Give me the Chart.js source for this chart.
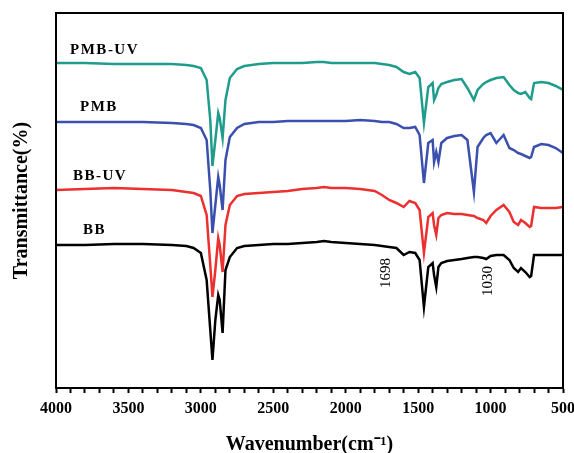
<!DOCTYPE html>
<html>
<head>
<meta charset="utf-8">
<title>FTIR spectra</title>
<script src="https://cdn.jsdelivr.net/npm/chart.js"></script>
<style>
  body { margin: 0; background: #fff; }
  #wrap { width: 574px; height: 453px; }
</style>
</head>
<body>
<div id="wrap">
  <canvas id="myChart" width="574" height="453"></canvas>
</div>

<script>
  // wavenumber grid (cm-1)
  const wavenumbers = [4000, 3800, 3600, 3400, 3200, 3100, 3050, 3000, 2960, 2935,
    2920, 2900, 2880, 2870, 2850, 2830, 2800, 2750, 2700, 2600,
    2500, 2400, 2300, 2200, 2150, 2100, 2000, 1900, 1800, 1750,
    1700, 1650, 1600, 1560, 1520, 1490, 1460, 1430, 1400, 1390,
    1375, 1360, 1340, 1300, 1250, 1200, 1160, 1115, 1090, 1050,
    1030, 1000, 960, 910, 870, 840, 810, 790, 760, 730,
    720, 700, 650, 600, 550, 500];

  // transmittance, arbitrary offset units (curves are stacked)
  const pmbUV = [325, 325, 324, 324, 324, 323, 322, 320, 308, 268,
    222, 248, 275, 270, 250, 288, 310, 319, 322, 324,
    325, 325, 325, 326, 326, 325, 325, 325, 325, 324,
    323, 321, 316, 314, 316, 310, 265, 301, 305, 288,
    293, 300, 304, 306, 308, 309, 300, 288, 298, 304,
    306, 308, 310, 311, 303, 298, 295, 294, 296, 290,
    289, 305, 306, 305, 302, 298];

  const pmb = [266, 266, 266, 266, 265, 264, 263, 260, 248, 198,
    155, 183, 211, 203, 178, 228, 251, 260, 264, 266,
    266, 267, 267, 267, 267, 267, 267, 268, 267, 266,
    266, 264, 260, 260, 261, 253, 205, 245, 248, 226,
    236, 226, 245, 250, 252, 253, 248, 196, 241, 250,
    253, 255, 245, 253, 240, 238, 235, 234, 232, 230,
    231, 241, 244, 243, 240, 235];

  const bbUV = [198, 199, 200, 199, 198, 196, 195, 192, 173, 123,
    91, 118, 150, 143, 116, 163, 183, 192, 194, 195,
    196, 197, 199, 200, 201, 200, 200, 199, 197, 193,
    188, 185, 181, 187, 185, 178, 135, 171, 175, 163,
    153, 170, 173, 175, 174, 174, 173, 172, 170, 168,
    165, 172, 178, 183, 176, 166, 163, 168, 165, 161,
    162, 181, 180, 180, 180, 181];

  const bb = [143, 143, 144, 144, 143, 142, 140, 135, 108, 58,
    28, 68, 93, 88, 55, 118, 131, 140, 142, 143,
    144, 144, 145, 146, 147, 146, 145, 144, 143, 142,
    141, 140, 133, 136, 135, 128, 81, 121, 125, 113,
    101, 121, 125, 127, 128, 129, 130, 131, 131, 130,
    129, 132, 133, 133, 128, 120, 116, 120, 116, 111,
    112, 133, 133, 133, 133, 133];

  const seriesNames = ['PMB-UV', 'PMB', 'BB-UV', 'BB'];
  const seriesColors = ['#1f9c8c', '#3b4fae', '#ec2f2f', '#000000'];
  const seriesData = [pmbUV, pmb, bbUV, bb];

  // where the curve names and peak marks sit (wavenumber, transmittance)
  const nameSpots = [[3903, 338], [3834, 281], [3883, 212], [3814, 158]];
  const peakMarks = ['1698', '1030'];
  const peakSpots = [[1720, 115], [1020, 107]];

  const serif = "'Liberation Serif', 'Times New Roman', serif";

  const textPlugin = {
    id: 'texts',
    afterDatasetsDraw(chart) {
      const c = chart.ctx, a = chart.chartArea;
      const xs = chart.scales.x, ys = chart.scales.y;
      c.save();
      c.strokeStyle = '#000';
      c.lineWidth = 2;
      c.strokeRect(a.left, a.top, a.right - a.left, a.bottom - a.top);

      c.fillStyle = '#000';
      c.font = 'bold 15px ' + serif;
      c.letterSpacing = '1.5px';
      c.textAlign = 'left';
      c.textBaseline = 'middle';
      for (let i = 0; i < seriesNames.length; i++) {
        c.fillText(seriesNames[i], xs.getPixelForValue(nameSpots[i][0]), ys.getPixelForValue(nameSpots[i][1]));
      }

      c.letterSpacing = '0px';
      c.font = '15px ' + serif;
      c.textAlign = 'center';
      for (let i = 0; i < peakMarks.length; i++) {
        c.save();
        c.translate(xs.getPixelForValue(peakSpots[i][0]), ys.getPixelForValue(peakSpots[i][1]));
        c.rotate(-Math.PI / 2);
        c.fillText(peakMarks[i], 0, 0);
        c.restore();
      }
      c.restore();
    }
  };

  const ctx = document.getElementById('myChart');

  new Chart(ctx, {
    type: 'line',
    data: {
      labels: wavenumbers,
      datasets: seriesNames.map((n, i) => ({
        label: n,
        data: seriesData[i].map((v, j) => ({ x: wavenumbers[j], y: v })),
        borderColor: seriesColors[i],
        borderWidth: 2.5,
        pointRadius: 0,
        tension: 0,
        fill: false
      }))
    },
    options: {
      responsive: false,
      animation: false,
      layout: { padding: { top: 13, right: 11, left: 0, bottom: 0 } },
      plugins: { legend: { display: false }, tooltip: { enabled: false } },
      scales: {
        x: {
          type: 'linear',
          reverse: true,
          min: 500,
          max: 4000,
          afterFit(s) { s.height = 65; s.paddingLeft = 0; s.paddingRight = 0; },
          border: { display: true, color: '#000', width: 2 },
          grid: { drawOnChartArea: false, drawTicks: true, tickLength: 5, tickWidth: 2, tickColor: '#000' },
          ticks: {
            stepSize: 100,
            autoSkip: false,
            maxTicksLimit: 50,
            maxRotation: 0,
            padding: 6,
            color: '#000',
            font: { family: serif, size: 16, weight: 'bold' },
            callback: v => (v % 500 === 0 ? String(v) : '')
          },
          title: {
            display: true,
            text: 'Wavenumber(cm\u207B\u00B9)',
            color: '#000',
            padding: { top: 0, bottom: 0 },
            font: { family: serif, size: 20, weight: 'bold', lineHeight: 0.8 }
          }
        },
        y: {
          min: 0,
          max: 375,
          afterFit(s) { s.width = 56; },
          border: { display: true, color: '#000', width: 2 },
          grid: { display: false },
          ticks: { display: false },
          title: {
            display: true,
            text: 'Transmittance(%)',
            color: '#000',
            padding: { top: 14, bottom: 0 },
            font: { family: serif, size: 20, weight: 'bold', lineHeight: 0.8 }
          }
        }
      }
    },
    plugins: [textPlugin]
  });
</script>

</body>
</html>
